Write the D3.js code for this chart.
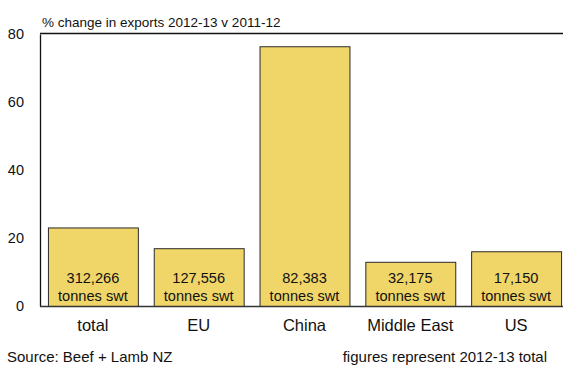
<!DOCTYPE html>
<html>
<head>
<meta charset="utf-8">
<script src="https://cdn.jsdelivr.net/npm/d3@7"></script>
<style>
  html, body { margin: 0; padding: 0; background: #fff; }
  svg { display: block; font-family: "Liberation Sans", Arial, Helvetica, sans-serif; }
</style>
</head>
<body>
<svg id="chart" width="563" height="365"></svg>
<script>
// Export volumes by market, % change 2012-13 vs 2011-12
const categories = ["total", "EU", "China", "Middle East", "US"];
const pctChange = [23.1, 17.0, 76.4, 13.0, 16.1];
const tonnes = ["312,266", "127,556", "82,383", "32,175", "17,150"];
const yTicks = [0, 20, 40, 60, 80];

const subtitle = "% change in exports 2012-13 v 2011-12";
const sourceNote = "Source: Beef + Lamb NZ";
const figuresNote = "figures represent 2012-13 total";

const svg = d3.select("#chart");
const W = 563;
const plot = { left: 40, top: 34, bottom: 306, right: 569 };

const x = d3.scaleBand()
  .domain(categories)
  .range([plot.left, plot.right])
  .paddingInner(0.15)
  .paddingOuter(0.075);

const y = d3.scaleLinear()
  .domain([0, 80])
  .range([plot.bottom, plot.top]);

// Subtitle
svg.append("text")
  .attr("x", 42).attr("y", 27)
  .attr("font-size", 13.5)
  .attr("fill", "#111")
  .text(subtitle);

// Bars
svg.append("g").selectAll("rect")
  .data(categories)
  .join("rect")
  .attr("x", d => x(d) + 0.5)
  .attr("y", (d, i) => y(pctChange[i]) + 0.5)
  .attr("width", x.bandwidth())
  .attr("height", (d, i) => y(0) - y(pctChange[i]))
  .attr("fill", "#F0D669")
  .attr("stroke", "#2a2a2a")
  .attr("stroke-width", 1);

// Tonnage labels inside the bars
const labels = svg.append("g")
  .attr("text-anchor", "middle")
  .attr("font-size", 14.6)
  .attr("fill", "#111");
labels.selectAll("text.val")
  .data(categories)
  .join("text")
  .attr("class", "val")
  .attr("x", d => x(d) + x.bandwidth() / 2)
  .attr("y", 283)
  .text((d, i) => tonnes[i]);
labels.selectAll("text.unit")
  .data(categories)
  .join("text")
  .attr("class", "unit")
  .attr("x", d => x(d) + x.bandwidth() / 2)
  .attr("y", 301)
  .text("tonnes swt");

// Top frame line
svg.append("line")
  .attr("x1", plot.left).attr("x2", W)
  .attr("y1", plot.top - 0.5).attr("y2", plot.top - 0.5)
  .attr("stroke", "#111").attr("stroke-width", 1.3);

// Y axis (left frame line + tick labels)
const yAxis = svg.append("g")
  .attr("transform", `translate(${plot.left},0)`)
  .call(d3.axisLeft(y).tickValues(yTicks).tickSize(0).tickPadding(16));
yAxis.select(".domain").attr("stroke", "#111").attr("stroke-width", 1.3);
yAxis.selectAll("text")
  .attr("font-family", "Liberation Sans, Arial, sans-serif")
  .attr("font-size", 14.5)
  .attr("fill", "#111");

// X axis (zero line + category labels)
const xAxis = svg.append("g")
  .attr("transform", `translate(0,${plot.bottom})`)
  .call(d3.axisBottom(x).tickSize(0).tickPadding(13));
xAxis.select(".domain")
  .attr("d", `M${plot.left},0.5H${W}`)
  .attr("stroke", "#333").attr("stroke-width", 1.5);
xAxis.selectAll("text")
  .attr("font-family", "Liberation Sans, Arial, sans-serif")
  .attr("font-size", 16.5)
  .attr("fill", "#111");

// Footnotes
svg.append("text")
  .attr("x", 7).attr("y", 362)
  .attr("font-size", 15)
  .attr("fill", "#111")
  .text(sourceNote);
svg.append("text")
  .attr("x", 547).attr("y", 362)
  .attr("text-anchor", "end")
  .attr("font-size", 15)
  .attr("fill", "#111")
  .text(figuresNote);
</script>
</body>
</html>
